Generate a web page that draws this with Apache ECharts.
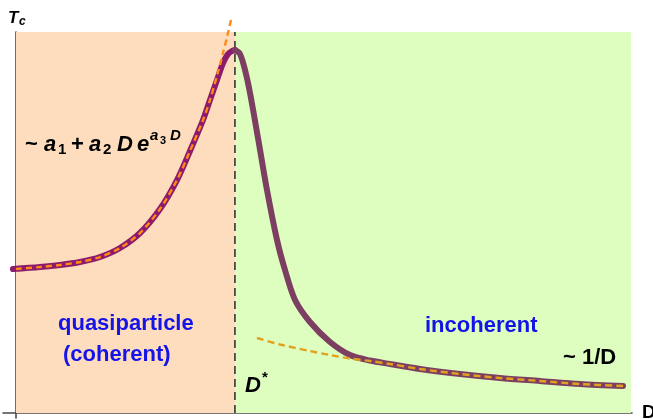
<!DOCTYPE html>
<html>
<head>
<meta charset="utf-8">
<script src="https://cdn.jsdelivr.net/npm/echarts@6/dist/echarts.min.js"></script>
<style>
html,body{margin:0;padding:0;background:#fff;}
#chart{width:653px;height:420px;}
</style>
</head>
<body>
<div id="chart"></div>
<script>
// ---- data (D in arbitrary units 0..100, Tc in arbitrary units 0..100) ----
const dStar = 35.6;
const regionBounds = [[0, 35.6], [35.6, 100]];

// coherent side of Tc(D) (rising branch up to the peak)
const leftD  = [-0.5, 3.90, 7.15, 10.41, 13.66, 16.91, 20.16, 23.41, 26.18, 28.29, 30.41, 31.54, 32.68, 33.66, 34.47, 35.12, 35.61];
const leftTc = [37.80, 38.32, 38.85, 39.63, 40.94, 43.31, 47.24, 53.54, 61.15, 68.77, 76.90, 82.15, 87.40, 91.86, 94.23, 95.01, 95.28];

// incoherent side of Tc(D) (falling branch after the peak)
const rightD  = [35.61, 36.42, 37.24, 38.05, 39.35, 40.81, 42.44, 43.74, 45.37, 47.80, 51.06, 54.31, 57.56, 60.81, 65.69, 72.20, 78.70, 85.20, 91.71, 98.70];
const rightTc = [95.28, 94.23, 90.03, 83.99, 72.18, 58.53, 45.41, 37.53, 29.66, 23.88, 18.64, 15.22, 13.78, 12.86, 11.55, 10.24, 9.19, 8.40, 7.61, 7.09];

// fit  ~ a1 + a2 D e^{a3 D}
const fitExpD  = [0, 3.90, 7.15, 10.41, 13.66, 16.91, 20.16, 23.41, 26.18, 28.29, 30.41, 31.54, 32.85, 33.66, 34.47, 34.96];
const fitExpTc = [37.80, 38.32, 38.85, 39.63, 40.94, 43.31, 47.24, 53.54, 61.15, 68.77, 76.90, 82.15, 89.50, 94.49, 99.74, 103.15];

// fit  ~ 1/D
const fitInvD  = [39.19, 42.93, 47.80, 51.06, 54.31, 57.56, 60.81, 65.69, 72.20, 78.70, 85.20, 91.71, 98.70];
const fitInvTc = [19.69, 17.98, 16.27, 15.22, 14.30, 13.65, 12.86, 11.55, 10.24, 9.19, 8.40, 7.61, 7.09];

const zip = (a, b) => a.map((v, i) => [v, b[i]]);

const chart = echarts.init(document.getElementById('chart'), null, {renderer: 'canvas'});

const axisLine = {show: true, onZero: true, lineStyle: {color: '#4a4a4a', width: 1.6}};
const T = (x, y, text, font, fill) => ({type: 'text', x: x, y: y, z: 100, style: {text: text, font: font, fill: fill || '#000', verticalAlign: 'middle'}});
const F = '"Liberation Sans", Arial, sans-serif';

chart.setOption({
  animation: false,
  grid: {left: 3, right: 21, top: 32, bottom: 2, containLabel: false},
  xAxis: {
    type: 'value', min: -2.114, max: 100.16,
    axisLine: axisLine, axisTick: {show: false}, axisLabel: {show: false}, splitLine: {show: false}
  },
  yAxis: {
    type: 'value', min: -1.312, max: 100,
    axisLine: axisLine, axisTick: {show: false}, axisLabel: {show: false}, splitLine: {show: false}
  },
  series: [
    {
      type: 'line', data: [], z: 0, silent: true,
      markArea: {
        silent: true,
        data: [
          [{xAxis: regionBounds[0][0], yAxis: 0, itemStyle: {color: '#FEDDBE'}}, {xAxis: regionBounds[0][1], yAxis: 100}],
          [{xAxis: regionBounds[1][0], yAxis: 0, itemStyle: {color: '#DEFEC0'}}, {xAxis: regionBounds[1][1], yAxis: 100}]
        ],
        label: {show: false}
      }
    },
    {
      type: 'line', data: [[dStar, 0], [dStar, 100]], symbol: 'none', z: 3,
      lineStyle: {color: '#1a1a1a', width: 1.4, type: [8, 5]}
    },
    {
      type: 'line', data: zip(leftD, leftTc), symbol: 'none', smooth: 0.3, clip: false, z: 4,
      lineStyle: {color: '#8C1B6E', width: 6, cap: 'round'}
    },
    {
      type: 'line', data: zip(rightD, rightTc), symbol: 'none', smooth: 0.3, clip: false, z: 4,
      lineStyle: {color: '#7C3F62', width: 6, cap: 'round'}
    },
    {
      type: 'line', data: zip(fitExpD, fitExpTc), symbol: 'none', smooth: 0.3, clip: false, z: 5,
      lineStyle: {color: '#FF8A14', width: 2.4, type: [6, 4]}
    },
    {
      type: 'line', data: zip(fitInvD, fitInvTc), symbol: 'none', smooth: 0.3, clip: false, z: 5,
      lineStyle: {color: '#E2A11C', width: 2.4, type: [7, 4]}
    }
  ],
  graphic: [
    // axis titles
    T(8, 18, 'T', 'italic bold 17px ' + F),
    T(19, 22, 'c', 'italic bold 12px ' + F),
    T(642, 413, 'D', 'bold 19px ' + F),
    // formula ~ a1 + a2 D e^{a3 D}
    T(25, 145, '~', 'bold 22px ' + F),
    T(44, 145, 'a', 'italic bold 22px ' + F),
    T(58, 150, '1', 'bold 15px ' + F),
    T(71, 145, '+', 'bold 22px ' + F),
    T(89, 145, 'a', 'italic bold 22px ' + F),
    T(103, 150, '2', 'bold 15px ' + F),
    T(117, 145, 'D', 'italic bold 22px ' + F),
    T(137, 145, 'e', 'italic bold 22px ' + F),
    T(150, 136, 'a', 'italic bold 15px ' + F),
    T(160, 141, '3', 'bold 11px ' + F),
    T(170, 136, 'D', 'italic bold 15px ' + F),
    // region labels
    T(58, 324, 'quasiparticle', 'bold 22px ' + F, '#1414E8'),
    T(63, 355, '(coherent)', 'bold 22px ' + F, '#1414E8'),
    T(425, 326, 'incoherent', 'bold 22px ' + F, '#1414E8'),
    // D* and ~1/D
    T(245, 386, 'D', 'italic bold 22px ' + F),
    T(262, 378, '*', 'bold 15px ' + F),
    T(563, 358, '~ 1/D', 'bold 22px ' + F)
  ]
});
</script>
</body>
</html>
